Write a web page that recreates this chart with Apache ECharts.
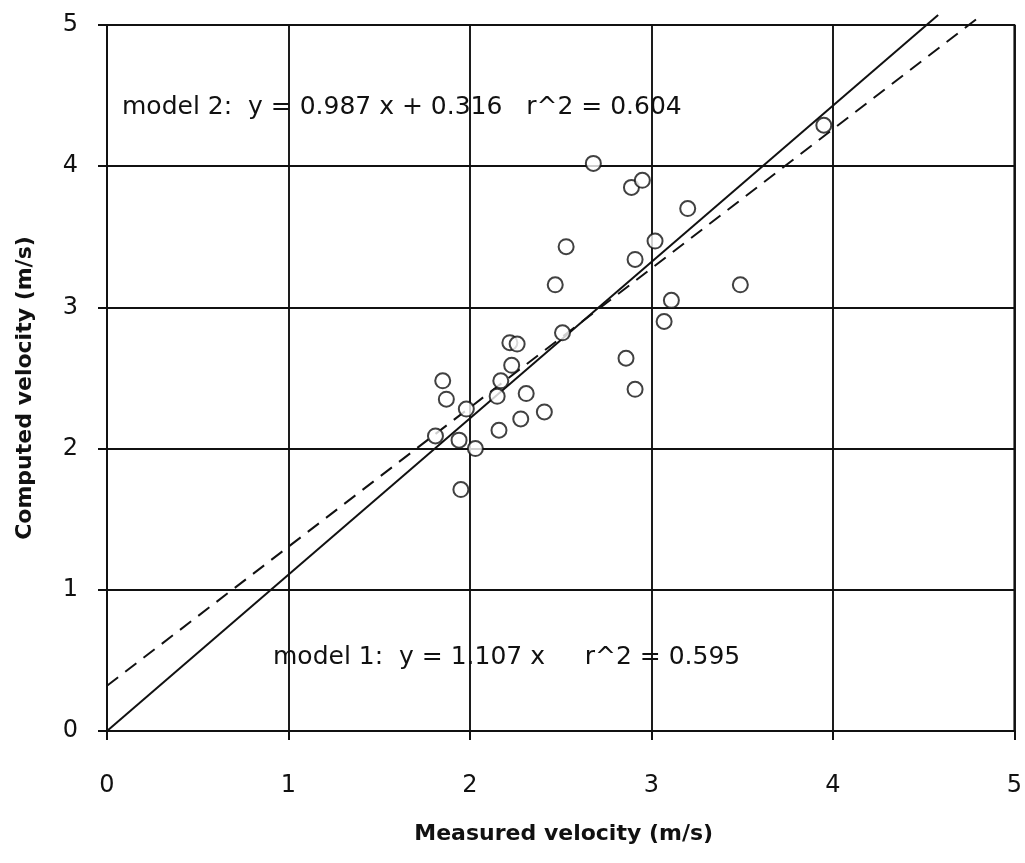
<!DOCTYPE html>
<html><head><meta charset="utf-8">
<script src="https://cdn.jsdelivr.net/npm/echarts@6/dist/echarts.min.js"></script>
<style>html,body{margin:0;padding:0;background:#fff}#c{width:1025px;height:863px}</style>
</head><body><div id="c"></div>
<script>
const measured = [1.81,1.85,1.87,1.94,1.95,1.98,2.03,2.15,2.17,2.16,2.22,2.23,2.26,2.28,2.31,2.41,2.47,2.51,2.53,2.68,2.86,2.89,2.91,2.91,2.95,3.02,3.07,3.11,3.2,3.49,3.95];
const computed = [2.09,2.48,2.35,2.06,1.71,2.28,2.0,2.37,2.48,2.13,2.75,2.59,2.74,2.21,2.39,2.26,3.16,2.82,3.43,4.02,2.64,3.85,3.34,2.42,3.9,3.47,2.9,3.05,3.7,3.16,4.29];
const model1Line = [[0,0],[4.58,5.07]];
const model2Line = [[0,0.32],[4.8,5.05]];
const xTicks = [0,1,2,3,4,5];
const yTicks = [0,1,2,3,4,5];
const model2Text = 'model 2:  y = 0.987 x + 0.316   r^2 = 0.604';
const model1Text = 'model 1:  y = 1.107 x     r^2 = 0.595';
const xName = 'Measured velocity (m/s)';
const yName = 'Computed velocity (m/s)';

const pts = measured.map((m,i)=>[m, computed[i]]);
const FONT = '"DejaVu Sans", "Liberation Sans", Arial, sans-serif';
const chart = echarts.init(document.getElementById('c'), null, {renderer:'canvas'});
const axisCommon = {
  type:'value', interval:1,
  axisLine:{show:true, lineStyle:{color:'#111', width:2}},
  axisTick:{show:true, inside:false, length:9, lineStyle:{color:'#111', width:2}},
  splitLine:{show:true, lineStyle:{color:'#111', width:1.9}},
  axisLabel:{color:'#111', fontFamily:FONT, fontSize:24},
  nameLocation:'middle',
  nameTextStyle:{color:'#111', fontFamily:FONT, fontSize:22, fontWeight:'bold'}
};
chart.setOption({
  animation:false,
  backgroundColor:'#fff',
  grid:{left:107, right:8, top:25, bottom:132, show:true, borderColor:'#111', borderWidth:1.9},
  xAxis: Object.assign({}, axisCommon, {min:xTicks[0], max:xTicks[xTicks.length-1], name:xName, nameGap:92,
    nameTextStyle:Object.assign({}, axisCommon.nameTextStyle, {padding:[0,0,0,6]}),
    axisLabel:Object.assign({}, axisCommon.axisLabel,{margin:43})}),
  yAxis: Object.assign({}, axisCommon, {min:yTicks[0], max:yTicks[yTicks.length-1], name:yName, nameGap:71,
    nameTextStyle:Object.assign({}, axisCommon.nameTextStyle, {padding:[0,20,0,0]}),
    axisLabel:Object.assign({}, axisCommon.axisLabel,{margin:29})}),
  series:[
    {type:'line', data:model1Line, clip:false, symbol:'none', lineStyle:{color:'#111', width:2}, z:3},
    {type:'line', data:model2Line, clip:false, symbol:'none', lineStyle:{color:'#111', width:2, type:[14,9]}, z:3},
    {type:'scatter', data:pts, symbol:'circle', symbolSize:15, itemStyle:{color:'#fff', borderColor:'#111', borderWidth:2}, z:5}
  ],
  graphic:[
    {type:'text', x:122, y:107, style:{text:model2Text, font:'25px '+FONT, fill:'#111', verticalAlign:'middle'}},
    {type:'text', x:273, y:657, style:{text:model1Text, font:'25px '+FONT, fill:'#111', verticalAlign:'middle'}}
  ]
});
</script></body></html>
